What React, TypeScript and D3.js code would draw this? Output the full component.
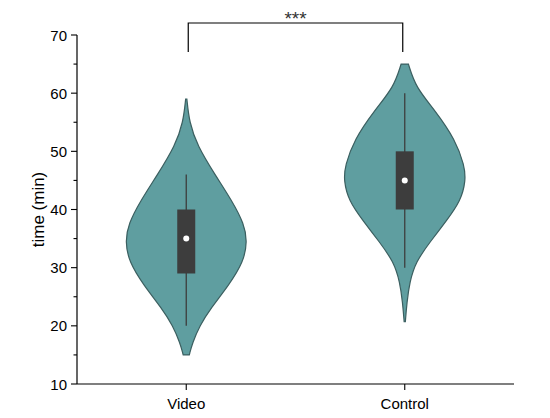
import React, { useEffect, useRef } from 'react';
import * as d3 from 'd3';

// categories
const groups = ['Video', 'Control'];

// violin outline: sample values and relative density
const videoValues = [15, 17, 20, 23, 27, 31, 34.5, 37.5, 41.5, 46, 51, 55, 59];
const videoDensity = [0.05, 0.1, 0.22, 0.4, 0.7, 0.94, 1.0, 0.95, 0.75, 0.47, 0.18, 0.05, 0.01];
const controlValues = [20.7, 24, 27.5, 31, 34.5, 38, 41.5, 45, 47.5, 52, 57, 61, 65];
const controlDensity = [0.01, 0.035, 0.08, 0.18, 0.42, 0.68, 0.92, 1.0, 0.98, 0.83, 0.5, 0.18, 0.06];

// box stats: [whiskerLow, q1, median, q3, whiskerHigh]
const videoBox = [20, 29, 35, 40, 46];
const controlBox = [30, 40, 45, 50, 60];

const yTicks = [10, 20, 30, 40, 50, 60, 70];

const FONT = 'Liberation Sans, Arial, sans-serif';

const App = () => {
  const svgRef = useRef(null);
  const width = 550;
  const height = 418;

  useEffect(() => {
    const svg = d3.select(svgRef.current);
    svg.selectAll('*').remove();

    const left = 77, right = 514, top = 35, bottom = 384;

    const x = d3.scalePoint().domain(groups).range([left, right]).padding(0.5);
    const y = d3.scaleLinear().domain([10, 70]).range([bottom, top]);

    const FILL = '#5f9ea0';
    const STROKE = '#3b5f60';
    const DARK = '#3d3d3d';
    const maxHalf = 61;

    const series = [
      { name: 'Video', values: videoValues, density: videoDensity, box: videoBox },
      { name: 'Control', values: controlValues, density: controlDensity, box: controlBox }
    ];

    series.forEach(s => {
      const cx = x(s.name);
      const pts = s.values.map((v, i) => ({ v, d: s.density[i] }));

      // 小提琴轮廓
      const area = d3.area()
        .y(p => y(p.v))
        .x0(p => cx - p.d * maxHalf)
        .x1(p => cx + p.d * maxHalf)
        .curve(d3.curveBasis);

      svg.append('path')
        .attr('d', area(pts))
        .attr('fill', FILL)
        .attr('stroke', STROKE)
        .attr('stroke-width', 1.2);

      // whisker
      svg.append('line')
        .attr('x1', cx).attr('x2', cx)
        .attr('y1', y(s.box[0])).attr('y2', y(s.box[4]))
        .attr('stroke', DARK)
        .attr('stroke-width', 1.3);

      // box
      svg.append('rect')
        .attr('x', cx - 9)
        .attr('width', 18)
        .attr('y', y(s.box[3]))
        .attr('height', y(s.box[1]) - y(s.box[3]))
        .attr('fill', DARK);

      // median dot
      svg.append('circle')
        .attr('cx', cx)
        .attr('cy', y(s.box[2]))
        .attr('r', 3)
        .attr('fill', '#fff');
    });

    // y axis
    const yAxis = svg.append('g').attr('transform', `translate(${left},0)`);
    yAxis.append('line')
      .attr('x1', 0).attr('x2', 0).attr('y1', top).attr('y2', bottom)
      .attr('stroke', '#000').attr('stroke-width', 1.2);
    d3.range(10, 71, 5).forEach(t => {
      const major = t % 10 === 0;
      yAxis.append('line')
        .attr('x1', major ? -6 : -3.5).attr('x2', 0)
        .attr('y1', y(t)).attr('y2', y(t))
        .attr('stroke', '#000').attr('stroke-width', 1.1);
    });
    yTicks.forEach(t => {
      yAxis.append('text')
        .attr('x', -10)
        .attr('y', y(t))
        .attr('text-anchor', 'end')
        .attr('dominant-baseline', 'central')
        .attr('font-family', FONT)
        .attr('font-size', '15px')
        .attr('fill', '#000')
        .text(t);
    });

    // x axis
    const xAxis = svg.append('g').attr('transform', `translate(0,${bottom})`);
    xAxis.append('line')
      .attr('x1', left).attr('x2', right).attr('y1', 0).attr('y2', 0)
      .attr('stroke', '#000').attr('stroke-width', 1.2);
    groups.forEach(g => {
      xAxis.append('line')
        .attr('x1', x(g)).attr('x2', x(g)).attr('y1', 0).attr('y2', 6)
        .attr('stroke', '#000').attr('stroke-width', 1.1);
      xAxis.append('text')
        .attr('x', x(g))
        .attr('y', 19)
        .attr('text-anchor', 'middle')
        .attr('dominant-baseline', 'central')
        .attr('font-family', FONT)
        .attr('font-size', '15px')
        .attr('fill', '#000')
        .text(g);
    });

    // y label
    svg.append('text')
      .attr('transform', `translate(38,${(top + bottom) / 2}) rotate(-90)`)
      .attr('text-anchor', 'middle')
      .attr('dominant-baseline', 'central')
      .attr('font-family', FONT)
      .attr('font-size', '17px')
      .attr('fill', '#000')
      .text('time (min)');

    // significance bracket
    const bx1 = x('Video') + 2;
    const bx2 = x('Control') - 2;
    svg.append('path')
      .attr('d', `M${bx1},52 V23 H${bx2} V52`)
      .attr('fill', 'none')
      .attr('stroke', '#000')
      .attr('stroke-width', 1.2);
    svg.append('text')
      .attr('x', (bx1 + bx2) / 2)
      .attr('y', 25)
      .attr('text-anchor', 'middle')
      .attr('font-family', FONT)
      .attr('font-size', '19px')
      .attr('fill', '#333')
      .text('***');
  }, []);

  return (
    <svg
      ref={svgRef}
      width={width}
      height={height}
      style={{ position: 'absolute', top: 0, left: 0, background: '#fff' }}
    />
  );
};

export default App;
